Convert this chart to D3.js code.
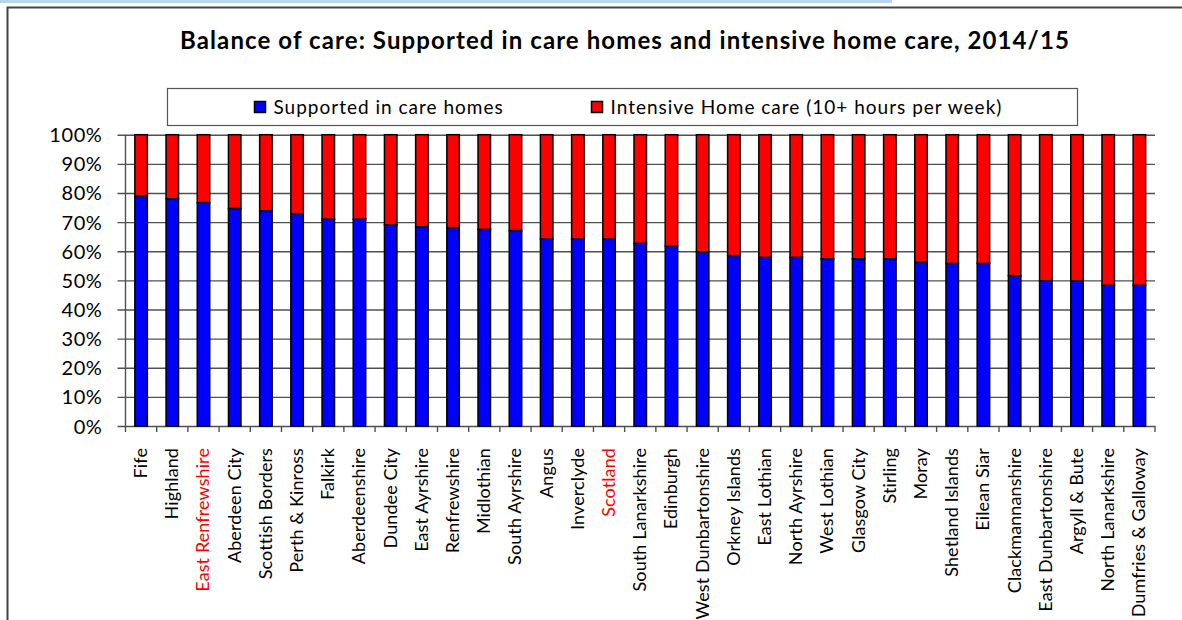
<!DOCTYPE html>
<html>
<head>
<meta charset="utf-8">
<title>Balance of care</title>
<script src="https://cdn.jsdelivr.net/npm/d3@7"></script>
<style>
  body { margin: 0; background: #fff; }
  text { font-family: Lato, "Open Sans", sans-serif; fill: #000; }
  .grid line { stroke: #505050; stroke-width: 1.4px; }
  .bar { stroke: #000; stroke-width: 1.5px; }
</style>
</head>
<body>
<script>

var width = 1182,
    height = 620;

// councils, sorted by share supported in care homes
var areas = ["Fife", "Highland", "East Renfrewshire", "Aberdeen City", "Scottish Borders",
  "Perth & Kinross", "Falkirk", "Aberdeenshire", "Dundee City", "East Ayrshire",
  "Renfrewshire", "Midlothian", "South Ayrshire", "Angus", "Inverclyde", "Scotland",
  "South Lanarkshire", "Edinburgh", "West Dunbartonshire", "Orkney Islands", "East Lothian",
  "North Ayrshire", "West Lothian", "Glasgow City", "Stirling", "Moray", "Shetland Islands",
  "Eilean Siar", "Clackmannanshire", "East Dunbartonshire", "Argyll & Bute",
  "North Lanarkshire", "Dumfries & Galloway"];

// % supported in care homes (rest is intensive home care)
var careHomes = [79.0, 78.0, 76.7, 74.7, 73.9, 72.9, 71.0, 71.0, 69.0, 68.4,
  68.1, 67.5, 67.1, 64.2, 64.2, 64.2, 62.7, 61.8, 59.8, 58.5, 57.9,
  57.9, 57.4, 57.4, 57.4, 56.3, 55.8, 55.8, 51.6, 49.8, 49.8,
  48.3, 48.3];

var highlighted = ["East Renfrewshire", "Scotland"];

var seriesNames = ["Supported in care homes", "Intensive Home care (10+ hours per week)"];
var seriesColors = ["#0000ff", "#ff0000"];

var yTicks = [0, 10, 20, 30, 40, 50, 60, 70, 80, 90, 100];

var svg = d3.select("body").append("svg")
    .attr("width", width)
    .attr("height", height);

// frame of the chart
svg.append("rect").attr("x", 0).attr("y", 0).attr("width", 892).attr("height", 3)
    .attr("fill", "#b9d5ee");
svg.append("path")
    .attr("d", "M7.5,621V7.5H1183")
    .attr("fill", "none").attr("stroke", "#444").attr("stroke-width", 2);

svg.append("text")
    .attr("x", 625).attr("y", 49)
    .attr("text-anchor", "middle")
    .style("font-weight", "bold")
    .style("font-size", "24px")
    .style("letter-spacing", "1.1px")
    .text("Balance of care: Supported in care homes and intensive home care, 2014/15");

// legend
var legend = svg.append("g");
legend.append("rect")
    .attr("x", 167.5).attr("y", 88.5).attr("width", 910).attr("height", 37)
    .attr("fill", "#fff").attr("stroke", "#555").attr("stroke-width", 1.2);
var legendX = [254.5, 591.5];
seriesNames.forEach(function (name, i) {
  legend.append("rect")
      .attr("x", legendX[i]).attr("y", 101.5).attr("width", 11).attr("height", 11)
      .attr("fill", seriesColors[i]).attr("stroke", "#000").attr("stroke-width", 1.5);
  legend.append("text")
      .attr("x", legendX[i] + 19).attr("y", 113.5)
      .style("font-size", "19px")
      .style("letter-spacing", "1px")
      .text(name);
});

var margin = {left: 125.5, right: 1155, top: 134.7, bottom: 426};

var x = d3.scaleBand()
    .domain(areas)
    .range([margin.left, margin.right])
    .paddingInner(0.6)
    .paddingOuter(0.3);

var y = d3.scaleLinear()
    .domain([0, 100])
    .range([margin.bottom, margin.top]);

// horizontal gridlines with the y axis
var yAxis = svg.append("g")
    .attr("class", "grid")
    .attr("transform", "translate(" + margin.left + ",0)")
    .call(d3.axisLeft(y)
      .tickValues(yTicks)
      .tickSizeInner(-(margin.right - margin.left))
      .tickSizeOuter(0)
      .tickFormat(function (d) { return d + "%"; }));
yAxis.select(".domain").remove();
yAxis.selectAll(".tick line").attr("x1", -8);
yAxis.selectAll(".tick text")
    .attr("x", -23)
    .style("font-size", "20px")
    .style("letter-spacing", "0.6px")
    .attr("dy", "0.35em");

svg.append("line")
    .attr("x1", margin.left).attr("x2", margin.left)
    .attr("y1", margin.top).attr("y2", margin.bottom)
    .attr("stroke", "#505050").attr("stroke-width", 1.4);

// bottom axis: ticks between categories
var step = x.step();
var bounds = areas.map(function (a) { return x(a) - (step - x.bandwidth()) / 2; });
bounds.push(margin.right);
svg.append("g").selectAll("line")
    .data(bounds)
  .enter().append("line")
    .attr("x1", function (d) { return d; }).attr("x2", function (d) { return d; })
    .attr("y1", margin.bottom).attr("y2", margin.bottom + 6)
    .attr("stroke", "#505050").attr("stroke-width", 1.4);

// stacked bars
var rows = areas.map(function (a, i) { return {area: a, home: careHomes[i], rest: 100 - careHomes[i]}; });
var bars = svg.append("g");
bars.selectAll(".blue")
    .data(rows)
  .enter().append("rect")
    .attr("class", "bar")
    .attr("x", function (d) { return x(d.area); })
    .attr("width", x.bandwidth())
    .attr("y", function (d) { return y(d.home); })
    .attr("height", function (d) { return y(0) - y(d.home); })
    .attr("fill", seriesColors[0]);
bars.selectAll(".red")
    .data(rows)
  .enter().append("rect")
    .attr("class", "bar")
    .attr("x", function (d) { return x(d.area); })
    .attr("width", x.bandwidth())
    .attr("y", y(100))
    .attr("height", function (d) { return y(d.home) - y(100); })
    .attr("fill", seriesColors[1]);

// category labels
svg.append("g").selectAll("text")
    .data(areas)
  .enter().append("text")
    .attr("transform", function (d) {
      return "translate(" + (x(d) + x.bandwidth() / 2 + 6) + ",448) rotate(-90)";
    })
    .attr("text-anchor", "end")
    .style("font-size", "18px")
    .style("letter-spacing", "0.1px")
    .style("fill", function (d) { return highlighted.indexOf(d) >= 0 ? "#ff0000" : "#000"; })
    .text(function (d) { return d; });

</script>
</body>
</html>
